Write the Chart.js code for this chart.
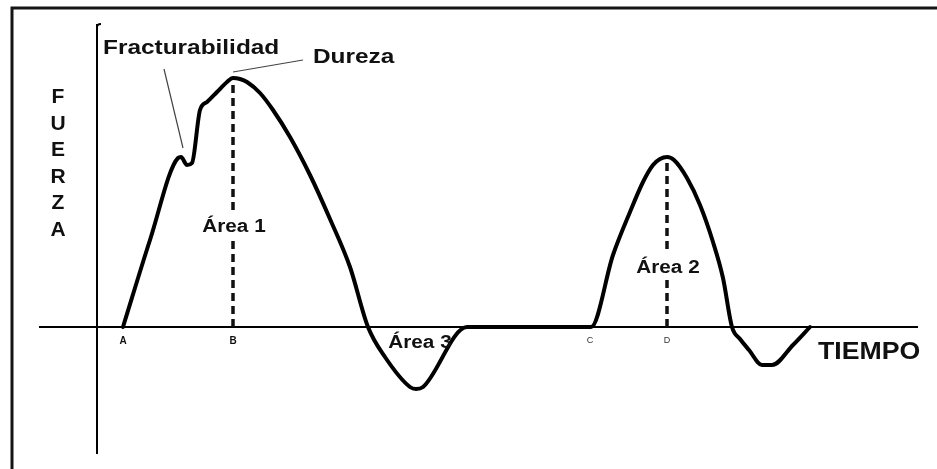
<!DOCTYPE html>
<html>
<head>
<meta charset="utf-8">
<title>Perfil de textura</title>
<script src="https://cdn.jsdelivr.net/npm/chart.js@4.4.1/dist/chart.umd.min.js"></script>
<style>
  html, body { margin: 0; padding: 0; background: #ffffff; }
  #wrap { width: 937px; height: 469px; }
</style>
</head>
<body>
<div id="wrap"><canvas id="tpa" width="937" height="469"></canvas></div>
<script>
// Texture profile: force against time for two compression cycles.
const timeValues = [26, 53, 81, 84, 90, 95, 103, 110, 120, 130, 136, 143, 150, 163, 176, 193,
  213, 233, 253, 271, 288, 313, 319, 326, 370, 494, 516, 533, 546, 556, 563, 570, 577, 590, 603,
  616, 626, 635, 643, 652, 665, 675, 696, 713];
const forceValues = [0, 87, 169, 170, 162, 164, 217, 225, 235, 245, 249, 248, 245, 234, 217, 190,
  152, 108, 60, 0, -30, -60, -62, -60, 0, 0, 72, 115, 145, 162, 168, 170, 167, 149, 122,
  85, 49, 0, -12, -23, -38, -38, -18, 0];

// Points marked on the time axis
const tickLabels = ['A', 'B', 'C', 'D'];
const tickTimes = [26, 136, 493, 570];

// Axis ranges (time, force)
const timeRange = [-57, 820];
const forceRange = [-126, 302];

const curvePoints = timeValues.map((t, i) => ({ x: t, y: forceValues[i] }));

// Peak of each cycle: first before the flat rest, second after it
function peakBetween(t0, t1) {
  let best = null;
  curvePoints.forEach(p => {
    if (p.x >= t0 && p.x <= t1 && (!best || p.y > best.y)) best = p;
  });
  return best;
}
const peak1 = peakBetween(tickTimes[0], tickTimes[2]);
const peak2 = peakBetween(tickTimes[2], timeRange[1]);

const INK = '#111111';

function stretchedText(ctx, text, x, y, font, align, sx) {
  ctx.save();
  ctx.font = font;
  ctx.textBaseline = 'alphabetic';
  ctx.textAlign = align;
  ctx.fillStyle = INK;
  ctx.translate(x, y);
  ctx.scale(sx, 1);
  ctx.fillText(text, 0, 0);
  ctx.restore();
}

const annotations = {
  id: 'annotations',
  beforeDraw(chart) {
    const ctx = chart.ctx;
    ctx.save();
    ctx.fillStyle = '#ffffff';
    ctx.fillRect(0, 0, chart.width, chart.height);
    // frame
    ctx.strokeStyle = '#151515';
    ctx.lineWidth = 3;
    ctx.beginPath();
    ctx.moveTo(12, chart.height);
    ctx.lineTo(12, 8);
    ctx.lineTo(chart.width, 8);
    ctx.stroke();
    ctx.restore();
  },
  afterDatasetsDraw(chart) {
    const ctx = chart.ctx;
    const xs = chart.scales.x, ys = chart.scales.y;
    const px = v => xs.getPixelForValue(v);
    const py = v => ys.getPixelForValue(v);
    const F = '"Liberation Sans", Arial, sans-serif';

    // small hook at the top of the force axis
    ctx.save();
    ctx.strokeStyle = '#000000';
    ctx.lineWidth = 2;
    ctx.beginPath();
    ctx.moveTo(px(0), ys.top + 2);
    ctx.quadraticCurveTo(px(0), ys.top - 1, px(0) + 4, ys.top - 1);
    ctx.stroke();

    // leader lines
    ctx.strokeStyle = '#444444';
    ctx.lineWidth = 1.2;
    ctx.beginPath();
    ctx.moveTo(px(67), py(258)); ctx.lineTo(px(86), py(179));
    ctx.moveTo(px(peak1.x), py(255)); ctx.lineTo(px(206), py(267));
    ctx.stroke();
    ctx.restore();

    // area labels on the dashed lines, with a clear gap behind them
    const areaFont = 'bold 18px ' + F;
    [[peak1.x, 95, 'Área 1'], [peak2.x, 54, 'Área 2']].forEach(([t, f, s]) => {
      ctx.save();
      ctx.fillStyle = '#ffffff';
      ctx.fillRect(px(t) - 4, py(f) - 22, 8, 29);
      ctx.restore();
      stretchedText(ctx, s, px(t) + 1, py(f), areaFont, 'center', 1.15);
    });
    stretchedText(ctx, 'Área 3', px(323), py(-21), areaFont, 'center', 1.15);

    stretchedText(ctx, 'Fracturabilidad', px(6), py(273), 'bold 20px ' + F, 'left', 1.22);
    stretchedText(ctx, 'Dureza', px(216), py(264), 'bold 20px ' + F, 'left', 1.22);
    stretchedText(ctx, 'TIEMPO', px(721), py(-32), 'bold 23px ' + F, 'left', 1.16);

    const letters = ['F', 'U', 'E', 'R', 'Z', 'A'];
    letters.forEach((l, i) => {
      stretchedText(ctx, l, px(-39), py(224 - i * 26.5), 'bold 21px ' + F, 'center', 1.0);
    });
  }
};

new Chart(document.getElementById('tpa'), {
  type: 'scatter',
  data: {
    datasets: [
      {
        data: [{ x: peak1.x, y: 0 }, { x: peak1.x, y: peak1.y }],
        showLine: true, borderColor: INK, borderWidth: 3.5, borderDash: [8, 5],
        pointRadius: 0, order: 2
      },
      {
        data: [{ x: peak2.x, y: 0 }, { x: peak2.x, y: peak2.y }],
        showLine: true, borderColor: INK, borderWidth: 3.5, borderDash: [8, 5],
        pointRadius: 0, order: 2
      },
      {
        data: curvePoints,
        showLine: true, borderColor: '#000000', borderWidth: 4,
        cubicInterpolationMode: 'monotone',
        borderJoinStyle: 'round', borderCapStyle: 'round',
        pointRadius: 0, order: 1
      }
    ]
  },
  options: {
    responsive: false,
    devicePixelRatio: 1,
    animation: false,
    events: [],
    layout: { padding: { left: 40, top: 25, right: 20, bottom: 16 } },
    plugins: { legend: { display: false }, tooltip: { enabled: false } },
    scales: {
      x: {
        type: 'linear',
        min: timeRange[0], max: timeRange[1],
        position: { y: 0 },
        grid: { display: false, drawTicks: false },
        border: { display: true, color: '#000000', width: 2 },
        afterBuildTicks(scale) {
          scale.ticks = tickTimes.map(v => ({ value: v }));
        },
        ticks: {
          autoSkip: false,
          maxRotation: 0,
          padding: 8,
          color: ctx => (ctx.index < 2 ? '#111111' : '#333333'),
          font: ctx => (ctx.index < 2
            ? { family: 'Liberation Sans', size: 10, weight: 'bold' }
            : { family: 'Liberation Sans', size: 9, weight: 'normal' }),
          callback: (v, i) => tickLabels[i]
        }
      },
      y: {
        type: 'linear',
        min: forceRange[0], max: forceRange[1],
        position: { x: 0 },
        grid: { display: false, drawTicks: false },
        border: { display: true, color: '#000000', width: 2 },
        ticks: { display: false }
      }
    }
  },
  plugins: [annotations]
});
</script>
</body>
</html>
